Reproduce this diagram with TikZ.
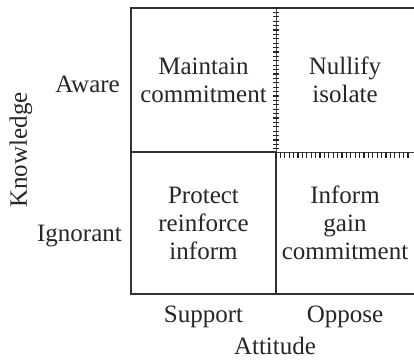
\documentclass[tikz,border=0pt]{standalone}
\usepackage{fontspec}
\setmainfont{Liberation Serif}
\usetikzlibrary{decorations.pathreplacing}
\begin{document}
\begin{tikzpicture}[x=1pt,y=-1pt,
  gridline/.style={line width=1.2pt, draw=black!80},
  txt/.style={font=\fontsize{25}{28}\selectfont, text=black!85, inner sep=0pt},
  cell/.style={txt, align=center},
  lbl/.style={txt, anchor=base},
  vzip/.style={line width=0.9pt, draw=black!70,
    postaction={decorate, draw=black!85, line width=1.2pt,
      decoration={ticks, segment length=4.4pt, amplitude=3pt}}},
  hzip/.style={line width=1pt, draw=black!75,
    postaction={decorate, draw=black!85, line width=1.1pt,
      decoration={border, segment length=4.4pt, amplitude=5.5pt, angle=-90}}},
  ]
\useasboundingbox (0,0) rectangle (414,360);

% grid corners
\coordinate (TL) at (131,8);
\coordinate (TM) at (276,8);
\coordinate (TR) at (414,8);
\coordinate (ML) at (131,152);
\coordinate (MM) at (276,152);
\coordinate (MR) at (414,152);
\coordinate (BL) at (131,294);
\coordinate (BM) at (276,294);
\coordinate (BR) at (414,294);

% plain borders
\draw[gridline] (TR) -- (TL) -- (BL) -- (BR);
\draw[gridline] (ML) -- (MM);
\draw[gridline] (MM) -- (BM);

% barrier lines around the opposing, aware quadrant
\draw[vzip] (TM) -- (MM);
\draw[hzip] (MM) -- (MR);

% quadrant contents
\node[cell] (maintain) at (203.5,80) {Maintain\\commitment};
\node[cell] (nullify)  at (345,80)   {Nullify\\isolate};
\node[cell] (protect)  at (203.5,223) {Protect\\reinforce\\inform};
\node[cell] (inform)   at (345,223)  {Inform\\gain\\commitment};

% axis labels
\node[lbl, anchor=base east] (aware)    at (120,92)  {Aware};
\node[lbl, anchor=base east] (ignorant) at (122,241) {Ignorant};
\node[txt, rotate=90] (knowledge) at (21,150) {Knowledge};
\node[lbl] (support)  at (203.5,322) {Support};
\node[lbl] (oppose)   at (345,322)   {Oppose};
\node[lbl] (attitude) at (275,354)   {Attitude};
\end{tikzpicture}
\end{document}
